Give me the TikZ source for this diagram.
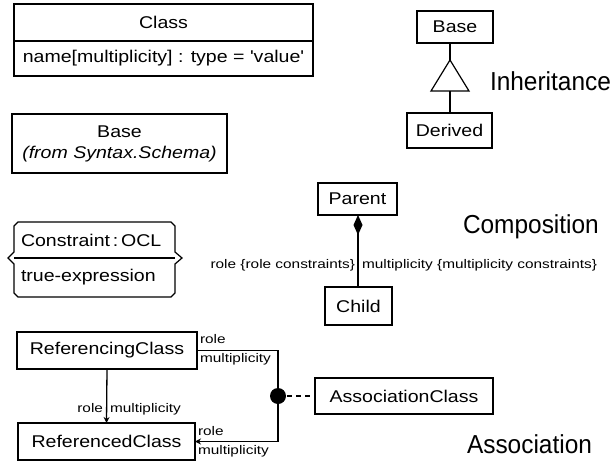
\documentclass[tikz,border=0pt]{standalone}
\usepackage{fontspec}
\usetikzlibrary{arrows.meta}
\setmainfont{Liberation Sans}
\newfontfamily\boxfont[FakeStretch=1.15]{Liberation Sans}
\newfontfamily\tagfont[FakeStretch=1.23]{Liberation Sans}
\newfontfamily\titlefont[FakeStretch=0.94]{Liberation Sans}
\begin{document}
\begin{tikzpicture}[x=1pt,y=-1pt,
  every node/.style={inner sep=0pt, outer sep=0pt},
  box/.style={draw, line width=1.2pt, fill=white, font=\boxfont\fontsize{17}{21}\selectfont},
  tag/.style={font=\tagfont\fontsize{12.5}{14}\selectfont},
  title/.style={font=\titlefont\fontsize{26}{30}\selectfont},
  link/.style={line width=1.3pt},
  smallarrow/.style={-{Stealth[length=6pt,width=6pt]}}
]
\useasboundingbox (0,0) rectangle (616,463);

% class notation
\node[box, minimum width=299pt, minimum height=37pt] (cls) at (163.5,22.5) {Class};
\node[box, minimum width=299pt, minimum height=35pt] (clsattr) at (163.5,58.5) {name[multiplicity] : type = 'value'};

% class imported from another package
\node[box, minimum width=215pt, minimum height=59pt, align=center] (extbase) at (119.5,143.5)
  {Base\\{\itshape (from Syntax.Schema)}};

% constraint
\draw[line width=1.2pt]
  (18,222) -- (171,222) -- (175,226) -- (175,252) -- (182,258) -- (175,264)
  -- (175,293) -- (171,297) -- (18,297) -- (14,293) -- (14,264) -- (8,258)
  -- (14,252) -- (14,226) -- cycle;
\draw[line width=1.2pt] (14,258) -- (175,258);
\node[anchor=west, font=\boxfont\fontsize{17}{21}\selectfont] (ctitle) at (21,240) {Constraint\,:\,OCL};
\node[anchor=west, font=\boxfont\fontsize{17}{21}\selectfont] (cexpr) at (21,277) {true-expression};

% inheritance
\node[box, minimum width=76pt, minimum height=32pt] (base) at (455,27) {Base};
\node[box, minimum width=85pt, minimum height=35pt] (derived) at (449.5,130.5) {Derived};
\coordinate (apex) at (450,60);
\coordinate (tribase) at (450,91);
\draw[link] (base.south -| apex) -- (apex);
\draw[line width=1.2pt] (apex) -- (431,91) -- (469,91) -- cycle;
\draw[link] (tribase) -- (derived.north -| tribase);
\node[title, anchor=base west] (inhlabel) at (490,90.5) {Inheritance};

% composition
\node[box, minimum width=79pt, minimum height=32pt] (parent) at (357.5,199) {Parent};
\node[box, minimum width=67pt, minimum height=38pt] (child) at (358.5,306) {Child};
\draw[link, {Diamond[length=20pt,width=9pt]}-] (parent.south -| 358,0) -- (child.north -| 358,0);
\node[tag, anchor=base east] (rolec) at (355,268) {role \{role constraints\}};
\node[tag, anchor=base west] (multc) at (362,268) {multiplicity \{multiplicity constraints\}};
\node[title, anchor=base west] (complabel) at (463,233) {Composition};

% association
\node[box, minimum width=180pt, minimum height=37pt] (refing) at (107,350.5) {ReferencingClass};
\node[box, minimum width=177pt, minimum height=37pt] (refed) at (106.5,441.5) {ReferencedClass};
\node[box, minimum width=178pt, minimum height=36pt] (assoc) at (404,396) {AssociationClass};
\coordinate (hubpt) at (278,396);
\draw[link, smallarrow] (refing.south) -- (refed.north);
\node[tag, anchor=base east] (roled) at (103,412) {role};
\node[tag, anchor=base west] (multd) at (110,412) {multiplicity};
\draw[link, smallarrow] (refing.east) -| (hubpt) |- (refed.east);
\draw[link, dash pattern=on 5pt off 4pt] (hubpt) -- (assoc.west);
\node[circle, fill=black, minimum size=16pt] (hub) at (hubpt) {};
\node[tag, anchor=base west] (rolea) at (200,343) {role};
\node[tag, anchor=base west] (multa) at (200,362) {multiplicity};
\node[tag, anchor=base west] (roleb) at (198,435) {role};
\node[tag, anchor=base west] (multb) at (198,454) {multiplicity};
\node[title, anchor=base west] (assoclabel) at (467,453) {Association};
\end{tikzpicture}
\end{document}
